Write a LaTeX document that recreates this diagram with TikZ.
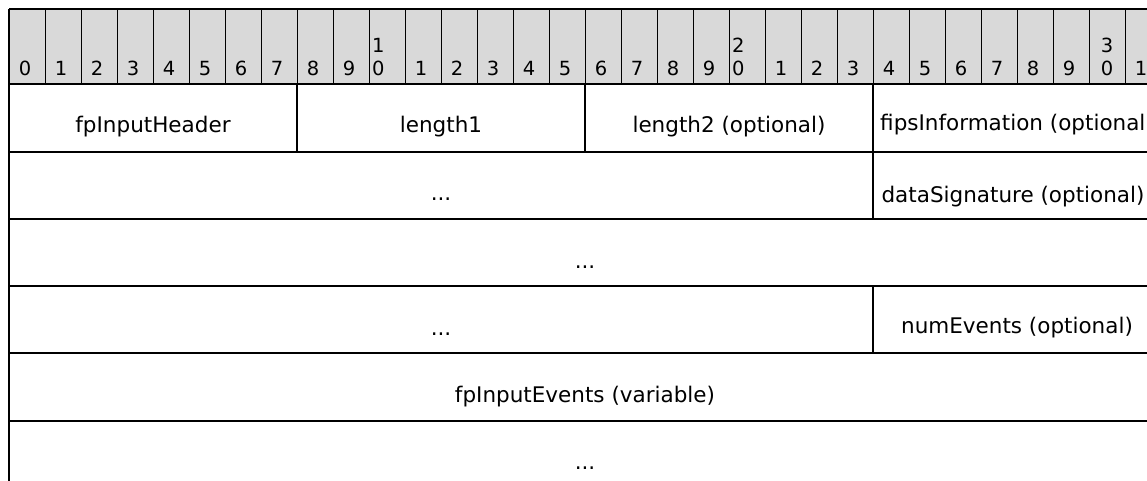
\documentclass[tikz,border=0pt]{standalone}
\usepackage{fontspec}
\setmainfont{DejaVu Sans}
\definecolor{headgray}{HTML}{D9D9D9}
\begin{document}
\begin{tikzpicture}[x=1pt,y=-1pt,
  hline/.style={line width=1.6pt},
  vline/.style={line width=1.2pt},
  tickline/.style={line width=1pt},
  lbl/.style={font=\fontsize{21.5}{26}\selectfont, anchor=base, inner sep=0pt},
  bit/.style={font=\fontsize{19.5}{24}\selectfont, anchor=base, inner sep=0pt},
  bitl/.style={font=\fontsize{19.5}{24}\selectfont, anchor=base west, inner sep=0pt},
]
\useasboundingbox (0,0) rectangle (1147,481);
\clip (0,0) rectangle (1147,481);
% header band
\fill[headgray] (9,9) rectangle (1161,84);
\foreach \i in {1,...,31} \draw[tickline] ({9+36*\i},9) -- ({9+36*\i},84);
\draw[hline] (9,9) -- (1161,9);
% bit numbers
\foreach \i in {0,...,9,11,12,13,14,15,16,17,18,19,21,22,23,24,25,26,27,28,29,31}{
  \pgfmathtruncatemacro{\d}{mod(\i,10)}
  \node[bit] (b\i) at ({9+36*\i+16},76) {\d};
}
\node[bitl] (b10t) at ({9+36*10+3},53) {1};
\node[bitl] (b10) at ({9+36*10+3},76) {0};
\node[bitl] (b20t) at ({9+36*20+3},53) {2};
\node[bitl] (b20) at ({9+36*20+3},76) {0};
\node[bit] (b30t) at ({9+36*30+18},53) {3};
\node[bit] (b30) at ({9+36*30+18},76) {0};
% horizontal row lines
\foreach \y in {84,152,219,286,353,421} \draw[hline] (9,\y) -- (1161,\y);
% left border
\draw[hline] (9,9) -- (9,481);
% field separators
\draw[vline] (297,84) -- (297,152);
\draw[vline] (585,84) -- (585,152);
\draw[vline] (873,84) -- (873,219);
\draw[vline] (873,286) -- (873,353);
% field labels
\node[lbl] (hdr) at (153,133) {fpInputHeader};
\node[lbl] (len1) at (441,133) {length1};
\node[lbl] (len2) at (729,133) {length2 (optional)};
\node[lbl] (fips) at (1017,131) {fipsInformation (optional)};
\node[lbl] (dots1) at (441,200) {...};
\node[lbl] (dsig) at (1013,202) {dataSignature (optional)};
\node[lbl] (dots2) at (585,268) {...};
\node[lbl] (dots3) at (441,335) {...};
\node[lbl] (numev) at (1017,333) {numEvents (optional)};
\node[lbl] (events) at (585,402) {fpInputEvents (variable)};
\node[lbl] (dots4) at (585,469) {...};
\end{tikzpicture}
\end{document}
